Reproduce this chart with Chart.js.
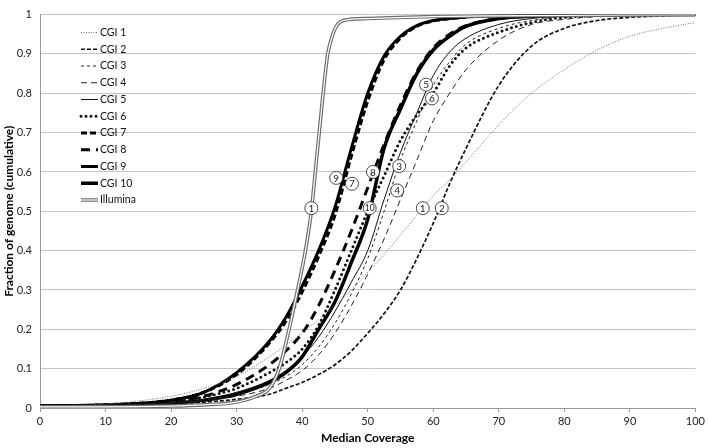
<!DOCTYPE html>
<html>
<head>
<meta charset="utf-8">
<script src="https://cdn.jsdelivr.net/npm/chart.js@4.4.0/dist/chart.umd.min.js"></script>
<style>
html,body{margin:0;padding:0;background:#fff;}
</style>
</head>
<body>
<canvas id="coverageChart" width="708" height="448"></canvas>
<script>
// median coverage grid shared by the CGI curves
let coverage = [0,10,20,25,30,35,37.5,40,42.5,45,47.5,50,52.5,55,57.5,60,62.5,65,70,75,80,85,90,95,100];

let cgi1  = [0.005,0.01,0.03,0.05,0.08,0.13,0.16,0.19,0.225,0.26,0.30,0.345,0.39,0.44,0.49,0.54,0.58,0.625,0.72,0.80,0.86,0.91,0.945,0.965,0.98];
let cgi2  = [0.005,0.006,0.01,0.015,0.022,0.035,0.05,0.065,0.085,0.11,0.145,0.19,0.24,0.30,0.38,0.47,0.57,0.66,0.82,0.92,0.965,0.985,0.993,0.997,1];
let cgi3  = [0.005,0.006,0.012,0.02,0.035,0.06,0.08,0.11,0.155,0.215,0.29,0.38,0.50,0.63,0.73,0.82,0.88,0.925,0.965,0.985,0.994,0.998,0.999,1,1];
let cgi4  = [0.005,0.006,0.011,0.018,0.03,0.05,0.07,0.095,0.135,0.19,0.26,0.34,0.43,0.53,0.63,0.73,0.80,0.86,0.935,0.975,0.988,0.995,0.998,0.999,1];
let cgi5  = [0.005,0.006,0.013,0.022,0.04,0.07,0.095,0.13,0.18,0.245,0.32,0.40,0.53,0.65,0.75,0.845,0.905,0.94,0.975,0.99,0.996,0.998,0.999,1,1];
let cgi6  = [0.005,0.007,0.015,0.028,0.05,0.09,0.115,0.15,0.21,0.30,0.40,0.50,0.59,0.68,0.745,0.80,0.87,0.915,0.955,0.98,0.993,0.997,0.999,1,1];
let cgi7  = [0.005,0.008,0.02,0.04,0.085,0.165,0.22,0.295,0.385,0.49,0.64,0.78,0.885,0.94,0.97,0.984,0.99,0.994,0.997,0.998,0.999,1,1,1,1];
let cgi8  = [0.005,0.007,0.015,0.03,0.06,0.11,0.145,0.19,0.26,0.35,0.45,0.56,0.67,0.77,0.855,0.915,0.95,0.972,0.99,0.996,0.998,0.999,1,1,1];
let cgi9  = [0.005,0.008,0.02,0.04,0.09,0.17,0.23,0.31,0.40,0.51,0.66,0.80,0.895,0.945,0.972,0.985,0.99,0.994,0.997,0.998,0.999,1,1,1,1];
let cgi10 = [0.005,0.006,0.012,0.02,0.035,0.065,0.09,0.13,0.20,0.27,0.37,0.48,0.66,0.76,0.85,0.91,0.945,0.97,0.99,0.996,0.998,0.999,1,1,1];

let illuminaX = [0,10,20,25,30,33,35,36.5,38,39.3,40.5,41.4,42,42.6,43.2,43.9,44.5,45.2,46.3,50,60,70,100];
let illuminaY = [0.003,0.003,0.005,0.008,0.015,0.03,0.05,0.1,0.2,0.3,0.4,0.5,0.6,0.7,0.8,0.9,0.94,0.97,0.985,0.99,0.995,0.997,1];

let seriesNames = ['CGI 1','CGI 2','CGI 3','CGI 4','CGI 5','CGI 6','CGI 7','CGI 8','CGI 9','CGI 10','Illumina'];
let xTicks = [0,10,20,30,40,50,60,70,80,90,100];
let yTicks = [0,0.1,0.2,0.3,0.4,0.5,0.6,0.7,0.8,0.9,1];
let yTickLabels = ['0','0.1','0.2','0.3','0.4','0.5','0.6','0.7','0.8','0.9','1'];

// circled curve markers (data coordinates)
let markerText = ['1','9','7','8','10','3','4','1','2','5','6'];
let markerX = [41.4,45.2,47.6,50.8,50.3,54.8,54.5,58.4,61.3,58.9,59.8];
let markerY = [0.508,0.585,0.57,0.60,0.508,0.615,0.553,0.508,0.508,0.822,0.787];

let styles = [
  {color:'#6f6f6f', width:1,   dash:[1,1.5], cap:'butt'},
  {color:'#111',    width:1.7, dash:[4,2],   cap:'butt'},
  {color:'#222',    width:1,   dash:[3,3],   cap:'butt'},
  {color:'#222',    width:1,   dash:[6,4],   cap:'butt'},
  {color:'#111',    width:1,   dash:[],      cap:'butt'},
  {color:'#111',    width:3,   dash:[0,5],   cap:'round'},
  {color:'#000',    width:3,   dash:[6,3],   cap:'butt'},
  {color:'#000',    width:3,   dash:[9,6],   cap:'butt'},
  {color:'#000',    width:3,   dash:[],      cap:'butt'},
  {color:'#000',    width:3.5, dash:[],      cap:'butt'},
  {color:'#6e6e6e', width:3.6, dash:[],      cap:'butt'}
];

function pts(xs, ys){
  return xs.map((x,i)=>({x:x, y:ys[i]}));
}

let cgiValues = [cgi1,cgi2,cgi3,cgi4,cgi5,cgi6,cgi7,cgi8,cgi9,cgi10];
let datasets = [];
for(let i=0;i<seriesNames.length;i++){
  let st = styles[i];
  let d = i<10 ? pts(coverage, cgiValues[i]) : pts(illuminaX, illuminaY);
  datasets.push({
    label: seriesNames[i],
    data: d,
    borderColor: st.color,
    borderWidth: st.width,
    borderDash: st.dash,
    borderCapStyle: st.cap,
    fill: false,
    order: i===10 ? -1 : 0
  });
}
// white core of the Illumina double line
datasets.push({
  label: 'Illumina core',
  data: pts(illuminaX, illuminaY),
  borderColor: '#ffffff',
  borderWidth: 1.2,
  fill: false,
  order: -2,
  skipLegend: true
});

let markerPlugin = {
  id: 'markers',
  afterDatasetsDraw(chart){
    let ctx = chart.ctx, xs = chart.scales.x, ys = chart.scales.y;
    ctx.save();
    for(let i=0;i<markerText.length;i++){
      let px = xs.getPixelForValue(markerX[i]);
      let py = ys.getPixelForValue(markerY[i]);
      ctx.beginPath();
      ctx.arc(px, py, 6.5, 0, Math.PI*2);
      ctx.fillStyle = '#fff';
      ctx.fill();
      ctx.lineWidth = 0.9;
      ctx.strokeStyle = '#333';
      ctx.stroke();
      ctx.fillStyle = '#222';
      ctx.font = (markerText[i].length>1 ? '8.5px' : '10px') + ' Lato';
      ctx.textAlign = 'center';
      ctx.textBaseline = 'middle';
      ctx.fillText(markerText[i], px, py+0.5);
    }
    ctx.restore();
  }
};

let legendPlugin = {
  id: 'sampleLegend',
  afterDraw(chart){
    let ctx = chart.ctx;
    let row = 0;
    ctx.save();
    chart.data.datasets.forEach(ds=>{
      if(ds.skipLegend) return;
      let y = 32.5 + row*16.75;
      ctx.beginPath();
      ctx.setLineDash(ds.borderDash || []);
      ctx.lineCap = ds.borderCapStyle || 'butt';
      ctx.lineWidth = ds.borderWidth;
      ctx.strokeStyle = ds.borderColor;
      ctx.moveTo(81, y);
      ctx.lineTo(98, y);
      ctx.stroke();
      if(ds.label==='Illumina'){
        ctx.beginPath();
        ctx.lineWidth = 1.2;
        ctx.strokeStyle = '#fff';
        ctx.moveTo(81, y);
        ctx.lineTo(98, y);
        ctx.stroke();
      }
      ctx.setLineDash([]);
      ctx.fillStyle = '#111';
      ctx.font = '10.5px Lato';
      ctx.textAlign = 'left';
      ctx.textBaseline = 'middle';
      ctx.fillText(ds.label, 100, y);
      row++;
    });
    ctx.restore();
  }
};

let ctx = document.getElementById('coverageChart').getContext('2d');
let myChart = new Chart(ctx, {
  type: 'line',
  data: { datasets: datasets },
  options: {
    responsive: false,
    animation: false,
    layout: { padding: { top: 8, right: 12, left: 0, bottom: 0 } },
    elements: {
      point: { radius: 0 },
      line: { cubicInterpolationMode: 'monotone' }
    },
    plugins: {
      legend: { display: false },
      tooltip: { enabled: false }
    },
    scales: {
      x: {
        type: 'linear',
        min: 0,
        max: 100,
        afterBuildTicks: s => { s.ticks = xTicks.map(v=>({value:v})); },
        afterFit: s => { s.height = 40; },
        grid: { drawOnChartArea: false, drawTicks: true, tickLength: 4, color: '#999' },
        border: { color: '#999' },
        ticks: { font: { family: 'Lato', size: 11 }, color: '#222', padding: 3, maxRotation: 0 },
        title: { display: true, text: 'Median Coverage', color: '#000',
                 font: { family: 'Lato', size: 12, weight: 'bold' }, padding: { top: 2, bottom: 3 } }
      },
      y: {
        min: 0,
        max: 1,
        afterBuildTicks: s => { s.ticks = yTicks.map(v=>({value:v})); },
        afterFit: s => { s.width = 40; },
        grid: { color: '#c4c4c4', drawTicks: false },
        border: { color: '#999' },
        ticks: {
          font: { family: 'Lato', size: 11 }, color: '#222', padding: 8,
          callback: (v, i) => yTickLabels[i]
        },
        title: { display: true, text: 'Fraction of genome (cumulative)', color: '#000',
                 font: { family: 'Lato', size: 12, weight: 'bold' }, padding: { top: 2, bottom: 0 } }
      }
    }
  },
  plugins: [markerPlugin, legendPlugin]
});
</script>
</body>
</html>
